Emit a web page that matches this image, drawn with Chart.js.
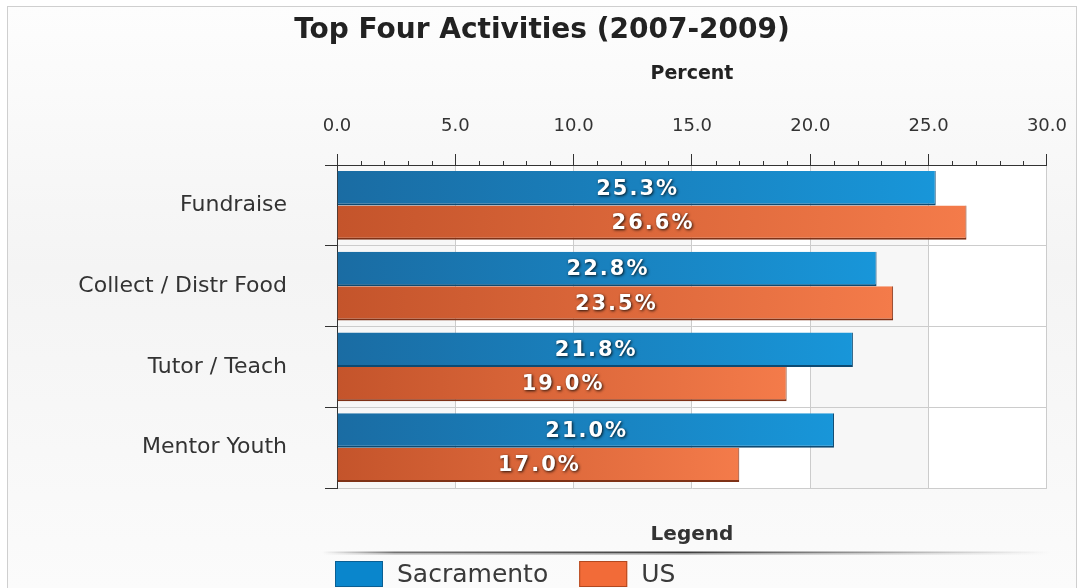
<!DOCTYPE html>
<html><head><meta charset="utf-8">
<script src="https://cdn.jsdelivr.net/npm/chart.js@4.4.0/dist/chart.umd.min.js"></script>
<style>html,body{margin:0;padding:0;background:#fff;overflow:hidden}#wrap{width:1084px;height:588px;position:relative}</style>
</head><body><div id="wrap"><canvas id="c" width="1084" height="588"></canvas></div>
<script>
const chartTitle = 'Top Four Activities (2007-2009)';
const axisTitle = 'Percent';
const legendTitle = 'Legend';
const categories = ['Fundraise', 'Collect / Distr Food', 'Tutor / Teach', 'Mentor Youth'];
const seriesNames = ['Sacramento', 'US'];
const sacramento = [25.3, 22.8, 21.8, 21.0];
const us = [26.6, 23.5, 19.0, 17.0];
const xMin = 0, xMax = 30, xMajorStep = 5, xMinorStep = 1;

const FONT = 'DejaVu Sans';
const grads = {
  blue: ['#1a6ca3', '#1896d9'],
  orange: ['#c4542b', '#f47b4a']
};
function barFill(ctx, pair, solid) {
  const chart = ctx.chart;
  const xs = chart.scales && chart.scales.x;
  if (!chart.chartArea || !xs || ctx.dataIndex === undefined) return solid;
  const v = ctx.dataset.data[ctx.dataIndex];
  const x0 = xs.getPixelForValue(0), x1 = xs.getPixelForValue(v);
  const g = chart.ctx.createLinearGradient(x0, 0, x1, 0);
  g.addColorStop(0, pair[0]);
  g.addColorStop(1, pair[1]);
  return g;
}

const bgPlugin = {
  id: 'bg',
  beforeDraw(chart) {
    const c = chart.ctx, W = chart.width, H = chart.height;
    c.save();
    c.fillStyle = '#ffffff';
    c.fillRect(0, 0, W, H);
    const g = c.createLinearGradient(0, 6, 0, H);
    g.addColorStop(0, '#fdfdfd');
    g.addColorStop(0.45, '#f4f4f4');
    g.addColorStop(1, '#fbfbfb');
    c.fillStyle = g;
    c.fillRect(7, 6, W - 14, H);
    c.strokeStyle = '#cfcfcf';
    c.lineWidth = 1;
    c.strokeRect(7.5, 6.5, W - 15, H + 10);
    const a = chart.chartArea, xs = chart.scales.x;
    c.fillStyle = '#ffffff';
    c.fillRect(a.left, a.top, a.right - a.left, a.bottom - a.top);
    c.fillStyle = '#f7f7f7';
    for (let v = xMin; v < xMax; v += 2 * xMajorStep) {
      const l = xs.getPixelForValue(v), r = xs.getPixelForValue(v + xMajorStep);
      c.fillRect(l, a.top, r - l, a.bottom - a.top);
    }
    c.restore();
  }
};

const minorTicks = {
  id: 'minorTicks',
  afterDraw(chart) {
    const c = chart.ctx, xs = chart.scales.x, a = chart.chartArea;
    c.save();
    c.strokeStyle = '#333';
    c.lineWidth = 1;
    for (let v = xMin; v <= xMax; v += xMinorStep) {
      if (v % xMajorStep === 0) continue;
      const x = Math.round(xs.getPixelForValue(v)) + 0.5;
      c.beginPath();
      c.moveTo(x, a.top);
      c.lineTo(x, a.top - 4);
      c.stroke();
    }
    c.restore();
  }
};

const valueLabels = {
  id: 'valueLabels',
  afterDatasetsDraw(chart) {
    const c = chart.ctx;
    c.save();
    c.font = 'bold 21px ' + FONT;
    try { c.letterSpacing = '2px'; } catch (e) {}
    c.textAlign = 'center';
    c.textBaseline = 'middle';
    chart.data.datasets.forEach((ds, i) => {
      chart.getDatasetMeta(i).data.forEach((el, j) => {
        const x = (el.base + el.x) / 2 + 1;
        const txt = ds.data[j].toFixed(1) + '%';
        c.shadowColor = 'rgba(0,0,0,0.85)';
        c.shadowBlur = 3;
        c.shadowOffsetX = 1;
        c.shadowOffsetY = 1;
        c.fillStyle = '#ffffff';
        c.fillText(txt, x, el.y + 1);
      });
    });
    c.restore();
  }
};

const customLegend = {
  id: 'customLegend',
  afterDraw(chart) {
    const c = chart.ctx, a = chart.chartArea;
    const cx = (a.left + a.right) / 2;
    c.save();
    c.fillStyle = '#333';
    c.font = 'bold 20px ' + FONT;
    c.textAlign = 'center';
    c.textBaseline = 'middle';
    c.fillText(legendTitle, cx, a.bottom + 47);
    const ly = a.bottom + 64.5;
    const lg = c.createLinearGradient(a.left - 15, 0, a.right + 3, 0);
    lg.addColorStop(0, 'rgba(90,90,90,0)');
    lg.addColorStop(0.1, 'rgba(80,80,80,0.8)');
    lg.addColorStop(0.5, 'rgba(60,60,60,1)');
    lg.addColorStop(0.75, 'rgba(90,90,90,0.6)');
    lg.addColorStop(1, 'rgba(120,120,120,0)');
    c.strokeStyle = lg;
    c.lineWidth = 2;
    c.beginPath(); c.moveTo(a.left - 15, ly); c.lineTo(a.right + 3, ly); c.stroke();
    c.globalAlpha = 0.3;
    c.lineWidth = 1;
    c.beginPath(); c.moveTo(a.left - 15, ly + 2); c.lineTo(a.right + 3, ly + 2); c.stroke();
    c.globalAlpha = 1;
    let x = a.left - 2;
    const y = a.bottom + 73;
    c.font = '25px ' + FONT;
    c.textAlign = 'left';
    chart.data.datasets.forEach(ds => {
      c.fillStyle = ds.legendColor;
      c.fillRect(x, y, 48, 26);
      c.strokeStyle = ds.legendBorder;
      c.lineWidth = 1;
      c.strokeRect(x + 0.5, y + 0.5, 47, 25);
      c.fillStyle = '#3a3a3a';
      c.fillText(ds.label, x + 62, y + 14);
      x += 62 + c.measureText(ds.label).width + 31;
    });
    c.restore();
  }
};

new Chart(document.getElementById('c'), {
  type: 'bar',
  data: {
    labels: categories,
    datasets: [
      {
        label: seriesNames[0], data: sacramento,
        backgroundColor: ctx => barFill(ctx, grads.blue, '#1a85c4'),
        borderColor: '#0d4a72', borderWidth: {top: 0, left: 0, right: 1, bottom: 2},
        legendColor: '#0a86cc', legendBorder: '#0a5f93'
      },
      {
        label: seriesNames[1], data: us,
        backgroundColor: ctx => barFill(ctx, grads.orange, '#e06a3c'),
        borderColor: '#7e3116', borderWidth: {top: 0, left: 0, right: 1, bottom: 2},
        legendColor: '#f26b38', legendBorder: '#b2481f'
      }
    ]
  },
  options: {
    indexAxis: 'y',
    responsive: false,
    animation: false,
    devicePixelRatio: 1,
    categoryPercentage: 0.85,
    barPercentage: 1.0,
    layout: {padding: {left: 0, right: 0, top: 0, bottom: 100}},
    plugins: {
      legend: {display: false},
      tooltip: {enabled: false},
      title: {
        display: true, text: chartTitle, color: '#222',
        font: {family: FONT, weight: 'bold', size: 28},
        padding: {top: 14, bottom: 8}
      }
    },
    scales: {
      x: {
        position: 'top', min: xMin, max: xMax,
        ticks: {stepSize: xMajorStep, callback: v => Number(v).toFixed(1), color: '#333', font: {family: FONT, size: 18}, padding: 17},
        grid: {color: '#cccccc', tickColor: '#333', tickLength: 11},
        border: {color: '#333'},
        title: {display: true, text: axisTitle, color: '#222', font: {family: FONT, weight: 'bold', size: 19}, padding: {top: 7, bottom: 0}},
        afterFit: s => { s.height = 109.4; }
      },
      y: {
        ticks: {color: '#333', font: {family: FONT, size: 22}, padding: 38},
        grid: {color: '#cccccc', tickColor: '#333', tickLength: 12, offset: true},
        border: {color: '#333'},
        afterFit: s => { s.width = 337; }
      },
      yR: {
        type: 'category', position: 'right', display: true,
        ticks: {display: false},
        grid: {display: false, drawTicks: false},
        border: {display: false},
        afterFit: s => { s.width = 37; }
      }
    }
  },
  plugins: [bgPlugin, minorTicks, valueLabels, customLegend]
});
</script></body></html>
